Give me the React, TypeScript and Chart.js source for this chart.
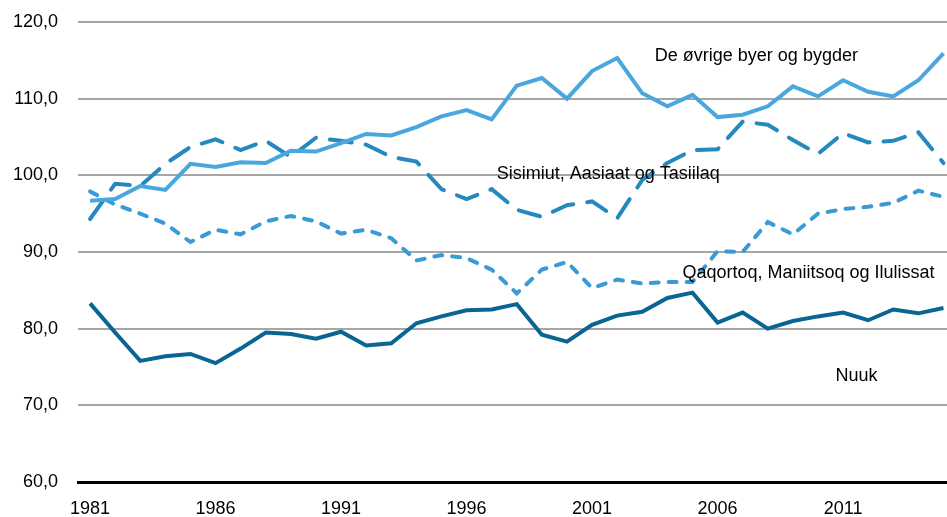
import React, { useEffect, useRef } from "react";
import { Chart, registerables } from "chart.js";

Chart.register(...registerables);

const years = [
  1981, 1982, 1983, 1984, 1985, 1986, 1987, 1988, 1989, 1990,
  1991, 1992, 1993, 1994, 1995, 1996, 1997, 1998, 1999, 2000,
  2001, 2002, 2003, 2004, 2005, 2006, 2007, 2008, 2009, 2010,
  2011, 2012, 2013, 2014, 2015,
];

const nuuk = [
  83.3, 79.5, 75.8, 76.4, 76.7, 75.5, 77.4, 79.5, 79.3, 78.7,
  79.6, 77.8, 78.1, 80.7, 81.6, 82.4, 82.5, 83.2, 79.2, 78.3,
  80.5, 81.7, 82.2, 84.0, 84.7, 80.8, 82.1, 80.0, 81.0, 81.6,
  82.1, 81.1, 82.5, 82.0, 82.7,
];

const oevrige = [
  96.7, 96.9, 98.6, 98.1, 101.5, 101.1, 101.7, 101.6, 103.2, 103.1,
  104.2, 105.4, 105.2, 106.3, 107.7, 108.5, 107.3, 111.7, 112.7, 110.0,
  113.6, 115.3, 110.7, 109.0, 110.5, 107.6, 107.9, 109.0, 111.6, 110.3,
  112.4, 110.9, 110.3, 112.4, 115.9,
];

const sisimiut = [
  94.3, 98.9, 98.6, 101.5, 103.7, 104.7, 103.3, 104.5, 102.4, 104.9,
  104.5, 104.0, 102.4, 101.8, 98.2, 96.9, 98.2, 95.5, 94.6, 96.1,
  96.6, 94.4, 99.4, 101.6, 103.3, 103.4, 107.0, 106.6, 104.6, 102.8,
  105.5, 104.3, 104.5, 105.6, 101.6,
];

const qaqortoq = [
  97.9, 96.2, 95.0, 93.7, 91.3, 92.9, 92.3, 94.0, 94.7, 94.0,
  92.4, 92.9, 91.8, 88.9, 89.6, 89.2, 87.7, 84.6, 87.7, 88.7,
  85.3, 86.4, 85.9, 86.1, 86.1, 90.1, 90.0, 93.9, 92.3, 95.0,
  95.6, 95.9, 96.4, 98.0, 97.2,
];

const xTickYears = [1981, 1986, 1991, 1996, 2001, 2006, 2011];

const seriesLabels = [
  { text: "De øvrige byer og bygder", x: 2003.5, y: 115.6 },
  { text: "Sisimiut, Aasiaat og Tasiilaq", x: 1997.2, y: 100.2 },
  { text: "Qaqortoq, Maniitsoq og Ilulissat", x: 2004.6, y: 87.3 },
  { text: "Nuuk", x: 2010.7, y: 73.8 },
];

const FONT = '"Liberation Sans", Arial, sans-serif';

const toPoints = (vals: number[]) => vals.map((v, i) => ({ x: years[i], y: v }));

const labelPlugin = {
  id: "seriesLabels",
  afterDatasetsDraw(chart: any) {
    const { ctx, scales } = chart;
    ctx.save();
    ctx.font = `18px ${FONT}`;
    ctx.fillStyle = "#000";
    ctx.textAlign = "left";
    ctx.textBaseline = "middle";
    for (const l of seriesLabels) {
      ctx.fillText(l.text, scales.x.getPixelForValue(l.x), scales.y.getPixelForValue(l.y));
    }
    ctx.restore();
  },
};

export default function App() {
  const ref = useRef<HTMLCanvasElement | null>(null);

  useEffect(() => {
    if (!ref.current) return;
    const chart = new Chart(ref.current, {
      type: "line",
      data: {
        datasets: [
          {
            label: "Nuuk",
            data: toPoints(nuuk),
            borderColor: "#0b6592",
            borderWidth: 4,
            pointRadius: 0,
            tension: 0,
          },
          {
            label: "De øvrige byer og bygder",
            data: toPoints(oevrige),
            borderColor: "#4aa7de",
            borderWidth: 4,
            pointRadius: 0,
            tension: 0,
          },
          {
            label: "Sisimiut, Aasiaat og Tasiilaq",
            data: toPoints(sisimiut),
            borderColor: "#2589c0",
            borderWidth: 4,
            borderDash: [22, 14],
            borderCapStyle: "round",
            pointRadius: 0,
            tension: 0,
          },
          {
            label: "Qaqortoq, Maniitsoq og Ilulissat",
            data: toPoints(qaqortoq),
            borderColor: "#3a9ad6",
            borderWidth: 4,
            borderDash: [8, 10],
            borderCapStyle: "round",
            pointRadius: 0,
            tension: 0,
          },
        ],
      },
      options: {
        animation: false,
        responsive: false,
        devicePixelRatio: 1,
        layout: { padding: { top: 22, right: 0, left: 0, bottom: 0 } },
        plugins: {
          legend: { display: false },
          tooltip: { enabled: false },
        },
        scales: {
          x: {
            type: "linear",
            min: 1980.52,
            max: 2015.14,
            afterBuildTicks: (scale: any) => {
              scale.ticks = xTickYears.map((v) => ({ value: v }));
            },
            afterFit: (scale: any) => {
              scale.height = 35;
            },
            grid: { display: false, drawTicks: false },
            border: { display: true, color: "#000", width: 3 },
            ticks: {
              color: "#000",
              font: { family: FONT, size: 18 },
              padding: 16,
              maxRotation: 0,
              autoSkip: false,
              callback: (v: any) => String(v),
            },
          },
          y: {
            min: 60,
            max: 120,
            afterFit: (scale: any) => {
              scale.width = 78;
              scale.paddingTop = 0;
              scale.paddingBottom = 0;
            },
            grid: { color: "#a6a6a6", lineWidth: 2, drawTicks: false },
            border: { display: false },
            ticks: {
              stepSize: 10,
              color: "#000",
              font: { family: FONT, size: 18 },
              padding: 20,
              callback: (v: any) => Number(v).toFixed(1).replace(".", ","),
            },
          },
        },
      },
      plugins: [labelPlugin],
    } as any);
    return () => chart.destroy();
  }, []);

  return (
    <div style={{ position: "absolute", left: 0, top: 0, width: 947, height: 517, background: "#fff" }}>
      <canvas ref={ref} width={947} height={517} />
    </div>
  );
}
